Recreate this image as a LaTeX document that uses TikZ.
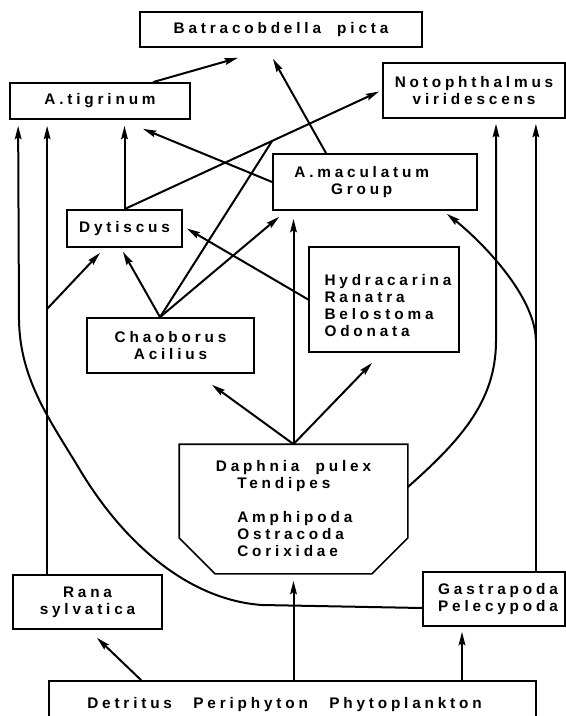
\documentclass[tikz,border=0pt]{standalone}
\usepackage{fontspec}
\setmainfont{Liberation Sans}[LetterSpace=25,WordSpace=2]
\usetikzlibrary{calc,arrows.meta}
\begin{document}
\begin{tikzpicture}[x=0.75pt,y=-0.75pt,
  box/.style={draw,line width=1.3pt,align=center,inner sep=0pt,font=\fontsize{11.5}{12.75}\selectfont\bfseries},
  arr/.style={line width=1.5pt,-{Stealth[length=10pt,width=5pt,inset=1.5pt]}},
  ln/.style={line width=1.5pt}]
\useasboundingbox (0,0) rectangle (566,716);
\clip (0,0) rectangle (566,716);
\node[box,minimum width=211.5pt,minimum height=26.25pt] (bat) at (281,29.5) {Batracobdella picta};
\node[box,minimum width=135pt,minimum height=27pt] (tig) at (100,101) {A.tigrinum};
\node[box,minimum width=136.5pt,minimum height=41.25pt] (not) at (474,90.5) {Notophthalmus\\viridescens};
\node[box,minimum width=153pt,minimum height=42pt] (mac) at (375,182) {A.maculatum\hspace*{20pt}\\Group\hspace*{20pt}};
\node[box,minimum width=86.25pt,minimum height=27.75pt] (dyt) at (124.5,228.5) {Dytiscus};
\node[box,align=left,minimum width=112.5pt,minimum height=78.75pt] (hyd) at (384,299.5) {\\[5pt]\hspace*{6pt}Hydracarina\\\hspace*{6pt}Ranatra\\\hspace*{6pt}Belostoma\\\hspace*{6pt}Odonata};
\node[box,minimum width=125.25pt,minimum height=41.25pt] (cha) at (170.5,345.5) {Chaoborus\\Acilius};
\node[box,draw=none,align=left,minimum width=170.25pt,minimum height=96pt] (dap) at (293.5,509) {Daphnia pulex\\\hspace*{16pt}Tendipes\\[12.75pt]\hspace*{16pt}Amphipoda\\\hspace*{16pt}Ostracoda\\\hspace*{16pt}Corixidae};
\draw[line width=1.3pt] (dap.north west) -- ($(dap.south west)+(0,-36)$) -- ($(dap.south west)+(36,0)$) -- ($(dap.south east)+(-36,0)$) -- ($(dap.south east)+(0,-36)$) -- (dap.north east) -- cycle;
\node[box,minimum width=111.75pt,minimum height=40.5pt] (ran) at (87.5,602) {Rana\\sylvatica};
\node[box,minimum width=106.5pt,minimum height=40.5pt] (gas) at (494,599) {\hspace*{6pt}Gastrapoda\\\hspace*{6pt}Pelecypoda};
\node[box,minimum width=365.25pt,minimum height=36pt] (det) at (292.5,705) {Detritus\hspace{16pt}Periphyton\hspace{16pt}Phytoplankton\hspace*{12pt}};
\coordinate (ntip) at ($(not.west)+(-3,1)$);
\coordinate (j) at ($(dyt.north)!0.58!(ntip)$);
\coordinate (ctop) at ($(cha.north)+(-10.5,0)$);
\coordinate (gfoot) at ($(gas.south)+(-32,0)$);
\coordinate (rtop) at ($(ran.north west)+(35,0)$);
\coordinate (rb) at ($(rtop |- dyt.south)+(0,61)$);
\coordinate (gtop) at ($(gas.north east)+(-30,0)$);
\coordinate (gb) at ($(gtop)+(0,-230)$);
\coordinate (nfoot) at ($(not.south)+(22,0)$);
\draw[arr] ($(tig.north)+(53,0)$) -- ($(bat.south)+(-43,10)$);
\draw[arr] ($(mac.north)+(-49,0)$) -- ($(bat.south)+(-8,11)$);
\draw[arr] (dyt.north) -- (ntip);
\draw[arr] (dyt.north) -- ($(dyt.north |- tig.south)+(0,6)$);
\draw[arr] (mac.west) -- ($(tig.south)+(43,9)$);
\draw[arr] (hyd.west) -- ($(dyt.east)+(4,0)$);
\draw[arr] (ctop) -- ($(dyt.south)+(-1.5,4)$);
\draw[arr] (ctop) -- ($(mac.south west)+(7,6)$);
\draw[ln] (ctop) -- (j);
\draw[arr] (dap.north) -- ($(cha.south)+(41.5,11)$);
\draw[arr] (dap.north) -- ($(hyd.south)+(-12,10)$);
\draw[arr] (dap.north) -- ($(dap.north |- mac.south)+(0,8)$);
\draw[arr] ($(det.north west)+(93,0)$) -- ($(ran.south)+(9.5,8)$);
\draw[arr] (dap.south |- det.north) -- ($(dap.south)+(0,7)$);
\draw[arr] (gfoot |- det.north) -- ($(gfoot)+(0,5)$);
\draw[arr] (rtop) -- ($(rtop |- tig.south)+(0,6)$);
\draw[arr] (rb) -- ($(dyt.south)+(-24.5,5)$);
\draw[arr] (gtop) -- ($(gtop |- not.south)+(0,5)$);
\draw[arr] (gb) .. controls +(0,-45) and +(34,27) .. ($(mac.south east)+(-31,3)$);
\draw[arr] ($(dap.east)+(0,-22)$) .. controls +(53,-47) and +(0,60) .. ($(nfoot)+(0,222)$) -- ($(nfoot)+(0,5)$);
\draw[arr] ($(gas.west)+(0,9)$) -- (262,605) .. controls (190,600) and (125,545) .. (80,470) .. controls (50,420) and (20,380) .. (19,320) -- ($(tig.south west)+(9,6)$);
\end{tikzpicture}
\end{document}
